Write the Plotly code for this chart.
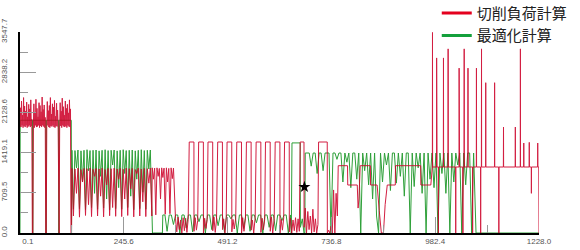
import numpy as np
import plotly.graph_objects as go

# ---------------- axis / legend text ----------------
x_tick_vals = [0.1, 245.6, 491.2, 736.8, 982.4, 1228.0]
x_tick_text = ["\u00a0\u00a0\u00a0\u00a0\u00a0\u00a0\u00a00.1", "245.6", "491.2", "736.8", "982.4", "1228.0"]
x_minor_vals = [122.85, 368.4, 614.0, 859.6, 1105.2]
y_tick_vals = [0.0, 709.5, 1419.1, 2128.6, 2838.2, 3547.7]
y_tick_text = ["0.0", "709.5", "1419.1", "2128.6", "2838.2", "3547.7"]
y_minor_vals = [354.75, 1064.3, 1773.85, 2483.4, 3192.95]
series_names = ["切削負荷計算", "最適化計算"]

# ---------------- red series (切削負荷計算) ----------------
red_a_span = (0.0, 122.0)
red_a_y = [1880, 2210, 1870, 2330, 1900, 2080, 1860, 2390, 1890, 2240, 1870, 2150, 1900, 2310, 1860, 2050,
           1880, 2270, 1900, 2190, 1870, 2350, 1890, 2010, 0, 0,
           1890, 2280, 1860, 2120, 1900, 2360, 1870, 2200, 1880, 2050, 1900, 2300, 1860, 2250, 1890, 2140,
           1870, 2400, 1900, 2180, 1880, 2260, 1860, 2040, 0, 0,
           1880, 2320, 1900, 2160, 1870, 2250, 1860, 2390, 1890, 2100, 1880, 2280, 1900, 2220, 1870, 2340,
           1860, 2060, 1890, 2290, 1880, 2170, 1900, 0, 0,
           1870, 2300, 1890, 2150, 1860, 2380, 1900, 2230, 1880, 2080, 1870, 2330, 1890, 2200, 1860, 2270,
           1900, 2120, 1880, 2350, 1870, 2190, 0, 0]
red_b_span = (123.0, 312.0)
red_b_y = [1140, 300, 1130, 700, 1145, 280, 1120, 900, 1140, 310, 1135, 500, 1145, 290, 1125, 1000, 1140, 300,
           1130, 650, 1145, 285, 1120, 850, 1140, 305, 1135, 450, 1145, 295, 1130, 950, 1140, 290, 1125, 600,
           1145, 310, 1135, 780, 1140, 285, 1120, 1050, 1145, 300, 1130, 550, 1140, 290, 1135, 880, 1145, 300]
red_c_span = (313.0, 366.0)
red_c_y = [1150, 950, 1145, 320, 1150, 1000, 1140, 600, 1150, 980, 1145, 330, 1150, 900, 1140, 340, 1150, 960,
           1145, 500]
red_d_x = [368, 371, 374, 377, 380, 383, 386, 389, 392, 395, 398,
           400.5, 411.6, 411.8, 414.5, 417.5, 420.5,
           422.8, 433.9, 434.1, 437, 440, 443,
           444.9, 456.0, 456.2, 459, 462, 465,
           467.9, 479.0, 479.2, 482, 485, 488,
           490.0, 501.1, 501.3, 504, 507, 510.5,
           513.0, 524.1, 524.3, 527, 530, 533.5,
           535.8, 546.9, 547.1, 550, 553, 556.5,
           558.8, 569.9, 570.1, 573, 576, 579,
           580.9, 592.0, 592.2, 595, 598, 601.5,
           603.9, 615.0, 615.2, 618, 621, 624,
           626.0, 637.1, 637.3, 640, 643, 646, 649, 652, 655, 658, 661,
           663.0, 672.0, 672.2, 675, 678, 681, 684, 687, 690, 693, 696, 699, 702, 705,
           706.5, 727.0, 727.2, 730, 733, 736, 739, 742, 745, 748, 751]
red_d_y = [250, 20, 280, 60, 230, 0, 270, 40, 260, 10, 240,
           1606, 1606, 30, 270, 50, 220,
           1606, 1606, 0, 260, 80, 240,
           1606, 1606, 40, 280, 10, 230,
           1606, 1606, 60, 250, 0, 270,
           1606, 1606, 20, 240, 70, 260,
           1606, 1606, 0, 270, 30, 250,
           1606, 1606, 50, 230, 0, 280,
           1606, 1606, 10, 260, 60, 240,
           1606, 1606, 30, 280, 0, 250,
           1606, 1606, 0, 240, 50, 270,
           1606, 1606, 20, 260, 0, 230, 40, 270, 10, 250, 30,
           1606, 1606, 100, 440, 0, 380, 60, 300, 0, 420, 20, 250, 0, 150,
           1606, 1606, 0, 50, 0, 120, 0, 760, 0, 700, 300]
red_f_x = [753, 775, 775.5, 798, 800, 802, 805, 829, 829.5, 845, 850, 855, 860, 864, 869, 888, 888.5, 948,
           948.5, 972]
red_f_y = [1188, 1188, 847, 847, 440, 600, 1188, 1188, 847, 847, 400, 0, 0, 500, 847, 847, 1188, 1188,
           847, 847]
red_base_level = 1165
red_spike_x = [976, 985.8, 986.6, 990, 1002, 1013, 1031, 1039, 1039.8, 1048, 1051, 1060, 1071, 1080, 1090,
               1092, 1102, 1123, 1133, 1144, 1172, 1184, 1192, 1205, 1210, 1225]
red_spike_top = [3540, 3090, 2400, 0, 3090, 3250, 0, 2910, 2300, 0, 3250, 2910, 0, 2910, 0,
                 3250, 2653, 2653, 0, 1871, 1871, 3250, 1588, 1600, 700, 1588]
red_end_x = [1227.4, 1228.0]
red_end_y = [1165, 0]

# ---------------- green series (最適化計算) ----------------
green_a_x = [0, 0.6, 29.6, 30.2, 30.8, 61.2, 61.8, 62.4, 91.4, 92.0, 92.6, 121.4, 122.0]
green_a_y = [0, 1990, 1990, 0, 1990, 1990, 0, 1990, 1990, 0, 1990, 1990, 0]
green_b_span = (123.0, 312.0)
green_b_y = [1460, 420, 1455, 1150, 1465, 430, 1450, 900, 1460, 410, 1470, 1100, 1455, 450, 1460, 700, 1465,
             420, 1450, 1000, 1460, 440, 1470, 600, 1455, 410, 1460, 1200, 1465, 430, 1450, 800, 1460, 420,
             1470, 1050, 1455, 450, 1460, 650, 1465, 410, 1450, 950, 1460, 430, 1470, 720, 1455, 420, 1460,
             1130, 1465, 440]
green_c_x = [313.5, 316.0, 337.0]
green_c_y = [0, 0, 0]
green_d_span = (338.0, 640.0)
green_d_y = [318, 318, 30, 318, 318, 150, 318, 318, 0, 318, 318, 90, 318, 318, 20, 318, 318, 200, 318, 318, 0,
             318, 318, 60, 318, 318, 130, 318, 318, 10, 318, 318, 250, 318, 318, 0, 318, 318, 80, 318, 318, 30,
             318, 318, 180, 318, 318, 0, 318, 318, 100, 318, 318, 40, 318, 318, 220, 318, 318, 0, 318]
green_e_x = [642, 643.6, 663.0, 663.5, 668, 672, 674]
green_e_y = [0, 1590, 1590, 100, 250, 0, 0]
green_f_span = (675.0, 1078.0)
green_f_y = [1412, 1412, 1412, 1180, 1412, 1412, 1050, 1412, 1412, 1100, 1412, 1412, 1412, 0, 1412, 1412, 1300,
             1412,
             1412, 900, 1412, 1250, 1412, 800, 1412, 1412, 950, 1412, 0, 1412, 1100, 1412, 850, 1412, 600, 1412,
             300, 0, 1412, 900, 1412, 1200, 1412, 750, 1412, 1412, 880, 1412, 1000, 1412, 650, 1412, 1412, 0,
             1412, 820, 1412, 1150, 1412, 700, 1412, 0, 1412, 950, 1412, 800, 1412, 0, 1412, 1050, 1412, 700,
             1412, 0, 1412, 900, 1412, 1200, 1412, 0, 1412, 850, 1412, 1412, 0, 1412, 0]
green_g_x = [1079.0, 1228.0]
green_g_y = [0, 0]

# marker
star_x = [673.0]
star_y = [812.0]


def seg(span, ys):
    return list(np.linspace(span[0], span[1], len(ys))), list(ys)


def spikes(xs, tops, base):
    px, py = [], []
    for x, t in zip(xs, tops):
        px += [x - 0.3, x, x + 0.3]
        py += [base, t, base]
    return px, py


rx, ry = [], []
for sx, sy in [seg(red_a_span, red_a_y), seg(red_b_span, red_b_y), seg(red_c_span, red_c_y),
               (red_d_x, red_d_y), (red_f_x, red_f_y),
               spikes(red_spike_x, red_spike_top, red_base_level), (red_end_x, red_end_y)]:
    rx += list(sx)
    ry += list(sy)

gx, gy = [], []
for sx, sy in [(green_a_x, green_a_y), seg(green_b_span, green_b_y), (green_c_x, green_c_y),
               seg(green_d_span, green_d_y), (green_e_x, green_e_y), seg(green_f_span, green_f_y),
               (green_g_x, green_g_y)]:
    gx += list(sx)
    gy += list(sy)

RED = "rgb(205,0,40)"
GREEN = "rgb(24,150,36)"

fig = go.Figure()
fig.add_trace(go.Scatter(x=gx, y=gy, mode="lines", line=dict(color=GREEN, width=1), opacity=0.9,
                         showlegend=False, hoverinfo="skip"))
fig.add_trace(go.Scatter(x=rx, y=ry, mode="lines", line=dict(color=RED, width=1), opacity=0.88,
                         showlegend=False, hoverinfo="skip"))
fig.add_trace(go.Scatter(x=star_x, y=star_y, mode="markers",
                         marker=dict(symbol="star", size=9, color="black"), showlegend=False))
# legend entries
fig.add_trace(go.Scatter(x=[None], y=[None], mode="lines", name=series_names[0],
                         line=dict(color="rgb(228,0,30)", width=3)))
fig.add_trace(go.Scatter(x=[None], y=[None], mode="lines", name=series_names[1],
                         line=dict(color="rgb(20,160,60)", width=3)))

tickfont = dict(family="Liberation Sans, Arial, sans-serif", size=8, color="#555")
fig.update_layout(
    width=580, height=250,
    margin=dict(l=20, r=41, t=32, b=17, autoexpand=False),
    paper_bgcolor="white", plot_bgcolor="white",
    legend=dict(x=0.803, y=1.175, xanchor="left", yanchor="top", bgcolor="rgba(0,0,0,0)",
                font=dict(family="Noto Sans CJK JP", size=15, color="#222"),
                itemwidth=30, tracegroupgap=0),
    xaxis=dict(range=[0.1, 1228.0], showline=True, linecolor="black", linewidth=1.5,
               showgrid=False, zeroline=False, ticks="inside", ticklen=16, tickcolor="#999",
               tickwidth=1, tickmode="array", tickvals=x_tick_vals, ticktext=x_tick_text,
               tickfont=tickfont,
               minor=dict(ticks="inside", ticklen=8, tickcolor="#999", tickmode="array",
                          tickvals=x_minor_vals, showgrid=False)),
    yaxis=dict(range=[0, 3547.7], showline=True, linecolor="black", linewidth=1.5,
               showgrid=False, zeroline=False, ticks="inside", ticklen=16, tickcolor="#999",
               tickwidth=1, tickmode="array", tickvals=y_tick_vals, ticktext=y_tick_text,
               tickangle=-90, tickfont=tickfont, ticklabelstandoff=8,
               minor=dict(ticks="inside", ticklen=8, tickcolor="#999", tickmode="array",
                          tickvals=y_minor_vals, showgrid=False)),
)

fig.write_html("out.html")
